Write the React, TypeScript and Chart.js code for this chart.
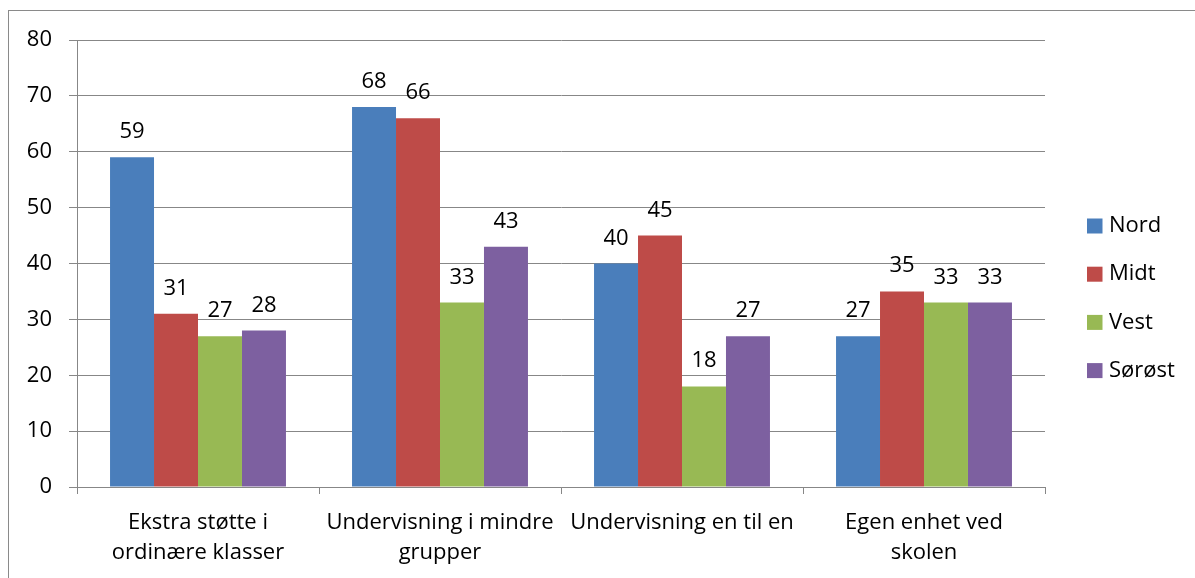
import { useEffect, useRef } from "react";
import { Chart, registerables } from "chart.js";

Chart.register(...registerables);

// Categories (multi-line labels as arrays)
const categories: (string | string[])[] = [
  ["Ekstra støtte i", "ordinære klasser"],
  ["Undervisning i mindre", "grupper"],
  "Undervisning en til en",
  ["Egen enhet ved", "skolen"],
];

const seriesNames = ["Nord", "Midt", "Vest", "Sørøst"];

const nord = [59, 68, 40, 27];
const midt = [31, 66, 45, 35];
const vest = [27, 33, 18, 33];
const sorost = [28, 43, 27, 33];

const yMin = 0;
const yMax = 80;
const yStep = 10;

const seriesColors = ["#4A7EBB", "#BE4B48", "#98B954", "#7D60A0"];

const FONT = "'Open Sans', Lato, sans-serif";
const FONT_SIZE = 22;
const GRID = "#878787";

// Value labels above each bar
const valueLabels = {
  id: "valueLabels",
  afterDatasetsDraw(chart: any) {
    const ctx = chart.ctx;
    ctx.save();
    ctx.font = `${FONT_SIZE}px ${FONT}`;
    ctx.fillStyle = "#000";
    ctx.textAlign = "center";
    ctx.textBaseline = "alphabetic";
    chart.data.datasets.forEach((ds: any, i: number) => {
      const meta = chart.getDatasetMeta(i);
      meta.data.forEach((bar: any, j: number) => {
        ctx.fillText(String(ds.data[j]), bar.x, bar.y - 19);
      });
    });
    ctx.restore();
  },
};

// Legend stacked at the right
const sideLegend = {
  id: "sideLegend",
  afterDraw(chart: any) {
    const ctx = chart.ctx;
    const boxX = 1087;
    const y0 = 226;
    const step = 48.2;
    const box = 15;
    ctx.save();
    ctx.font = `${FONT_SIZE}px ${FONT}`;
    ctx.textAlign = "left";
    ctx.textBaseline = "middle";
    chart.data.datasets.forEach((ds: any, i: number) => {
      const cy = y0 + i * step;
      ctx.fillStyle = ds.backgroundColor;
      ctx.fillRect(boxX, cy - box / 2, box + 0.5, box);
      ctx.fillStyle = "#000";
      ctx.fillText(ds.label, boxX + 22, cy);
    });
    ctx.restore();
  },
};

export default function App() {
  const canvasRef = useRef<HTMLCanvasElement | null>(null);

  useEffect(() => {
    if (!canvasRef.current) return;
    const seriesData = [nord, midt, vest, sorost];
    const chart = new Chart(canvasRef.current, {
      type: "bar",
      data: {
        labels: categories,
        datasets: seriesNames.map((name, i) => ({
          label: name,
          data: seriesData[i],
          backgroundColor: seriesColors[i],
          borderWidth: 0,
          categoryPercentage: 0.727,
          barPercentage: 1,
        })),
      },
      options: {
        responsive: false,
        animation: false,
        layout: { padding: { top: 40, right: 150, left: 0, bottom: 0 } },
        plugins: {
          legend: { display: false },
          tooltip: { enabled: false },
        },
        scales: {
          x: {
            afterFit(scale: any) {
              scale.height = 91;
            },
            grid: {
              offset: true,
              drawOnChartArea: false,
              drawTicks: true,
              tickLength: 7,
              color: GRID,
            },
            border: { display: true, color: GRID },
            ticks: {
              color: "#000",
              padding: 14,
              maxRotation: 0,
              autoSkip: false,
              font: { family: FONT, size: FONT_SIZE, lineHeight: 30 / FONT_SIZE },
            },
          },
          y: {
            min: yMin,
            max: yMax,
            afterFit(scale: any) {
              scale.width = 77;
            },
            grid: { color: GRID, tickLength: 8, drawTicks: true },
            border: { display: true, color: GRID },
            ticks: {
              stepSize: yStep,
              color: "#000",
              padding: 17,
              font: { family: FONT, size: FONT_SIZE },
            },
          },
        },
      },
      plugins: [valueLabels, sideLegend],
    });
    return () => chart.destroy();
  }, []);

  return (
    <>
      <div
        style={{
          position: "fixed",
          left: 8,
          top: 10,
          width: 1400,
          height: 800,
          borderLeft: "1px solid #8a8a8a",
          borderTop: "1px solid #8a8a8a",
        }}
      />
      <canvas
        ref={canvasRef}
        width={1195}
        height={578}
        style={{ position: "fixed", left: 0, top: 0, display: "block" }}
      />
    </>
  );
}
